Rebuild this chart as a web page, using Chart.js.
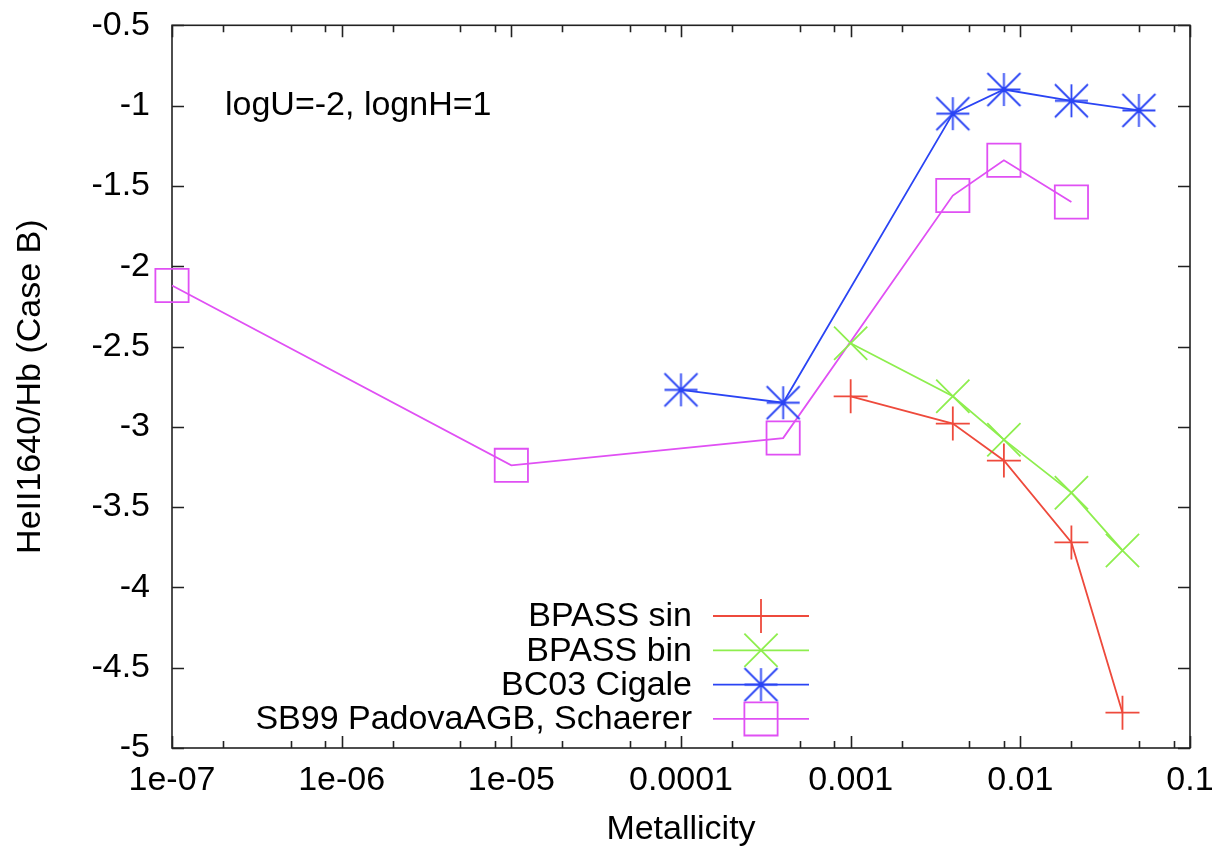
<!DOCTYPE html>
<html>
<head>
<meta charset="utf-8">
<title>HeII1640/Hb vs Metallicity</title>
<script src="https://cdn.jsdelivr.net/npm/chart.js@4/dist/chart.umd.min.js"></script>
<style>
    html, body { margin: 0; padding: 0; background: #fff; }
    #wrap { width: 1220px; height: 854px; position: relative; }
</style>
</head>
<body>
<div id="wrap"><canvas id="chartHeII"></canvas></div>
<script>
// --- valores ---
const sinZ = [0.001, 0.004, 0.008, 0.02, 0.04];
const sinHe = [-2.81, -2.98, -3.21, -3.72, -4.78];

const binZ = [0.001, 0.004, 0.008, 0.02, 0.04];
const binHe = [-2.48, -2.81, -3.08, -3.41, -3.77];

const bc03Z = [0.0001, 0.0004, 0.004, 0.008, 0.02, 0.05];
const bc03He = [-2.77, -2.85, -1.05, -0.90, -0.97, -1.03];

const sb99Z = [1e-7, 1e-5, 0.0004, 0.004, 0.008, 0.02];
const sb99He = [-2.12, -3.24, -3.07, -1.56, -1.34, -1.60];

const seriesNames = ['BPASS sin', 'BPASS bin', 'BC03 Cigale', 'SB99 PadovaAGB, Schaerer'];

const xTickValues = [1e-7, 1e-6, 1e-5, 1e-4, 1e-3, 1e-2, 1e-1];
const xTickLabels = ['1e-07', '1e-06', '1e-05', '0.0001', '0.001', '0.01', '0.1'];
const xMinorSteps = [2, 5, 8];
const yTickValues = [-5, -4.5, -4, -3.5, -3, -2.5, -2, -1.5, -1, -0.5];
const yTickLabels = ['-5', '-4.5', '-4', '-3.5', '-3', '-2.5', '-2', '-1.5', '-1', '-0.5'];

const FONT = "'Liberation Sans', Arial, sans-serif";
const FSIZE = 34;

function toPoints(xs, ys) {
    return xs.map((x, i) => ({ x: x, y: ys[i] }));
}

// asterisco estilo gnuplot (+ y x del mismo tamaño)
function asteriskSprite(color, half, lw) {
    const c = document.createElement('canvas');
    const s = Math.ceil(half * 2 + lw * 2);
    c.width = s; c.height = s;
    const g = c.getContext('2d');
    const m = s / 2;
    g.strokeStyle = color;
    g.lineWidth = lw;
    g.beginPath();
    g.moveTo(m - half, m); g.lineTo(m + half, m);
    g.moveTo(m, m - half); g.lineTo(m, m + half);
    g.moveTo(m - half, m - half); g.lineTo(m + half, m + half);
    g.moveTo(m - half, m + half); g.lineTo(m + half, m - half);
    g.stroke();
    return c;
}

const colRed = '#ee4a3c';
const colGreen = '#8eee4e';
const colBlue = '#2a44f4';
const colMagenta = '#e050f4';

function makeSeries(label, xs, ys, color, pointStyle, radius) {
    return {
        label: label,
        data: toPoints(xs, ys),
        borderColor: color,
        backgroundColor: color,
        borderWidth: 1.8,
        pointStyle: pointStyle,
        pointRadius: radius,
        pointBorderColor: color,
        pointBackgroundColor: 'rgba(0,0,0,0)',
        pointBorderWidth: 1.8,
        tension: 0,
        clip: false
    };
}

// ticks hacia dentro y marco, como gnuplot
const frameTicks = {
    id: 'frameTicks',
    beforeDatasetsDraw(chart) {
        const { ctx, chartArea: a, scales: { x, y } } = chart;
        ctx.save();
        ctx.strokeStyle = '#222';
        ctx.lineWidth = 1.6;
        ctx.strokeRect(a.left, a.top, a.right - a.left, a.bottom - a.top);
        ctx.beginPath();
        yTickValues.forEach(v => {
            const py = Math.round(y.getPixelForValue(v)) + 0.5;
            ctx.moveTo(a.left, py); ctx.lineTo(a.left + 12, py);
            ctx.moveTo(a.right, py); ctx.lineTo(a.right - 12, py);
        });
        xTickValues.forEach((v, i) => {
            const px = Math.round(x.getPixelForValue(v)) + 0.5;
            ctx.moveTo(px, a.bottom); ctx.lineTo(px, a.bottom - 12);
            ctx.moveTo(px, a.top); ctx.lineTo(px, a.top + 12);
            if (i < xTickValues.length - 1) {
                xMinorSteps.forEach(m => {
                    const pm = Math.round(x.getPixelForValue(v * m)) + 0.5;
                    ctx.moveTo(pm, a.bottom); ctx.lineTo(pm, a.bottom - 7);
                    ctx.moveTo(pm, a.top); ctx.lineTo(pm, a.top + 7);
                });
            }
        });
        ctx.stroke();
        ctx.restore();
    }
};

// leyenda con texto a la derecha y muestra a la izquierda (key de gnuplot)
const gnuplotKey = {
    id: 'gnuplotKey',
    afterDraw(chart) {
        const { ctx, chartArea: a } = chart;
        ctx.save();
        ctx.font = FSIZE + 'px ' + FONT;
        ctx.fillStyle = '#000';
        ctx.textBaseline = 'middle';

        // etiqueta de parámetros
        ctx.textAlign = 'left';
        ctx.fillText('logU=-2, lognH=1', a.left + 53, a.top + 80);

        ctx.textAlign = 'right';
        chart.data.datasets.forEach((ds, i) => {
            const yy = a.bottom - 132 + i * 34.3;
            ctx.fillStyle = '#000';
            ctx.fillText(ds.label, a.left + 520, yy + 1);
            ctx.strokeStyle = ds.borderColor;
            ctx.lineWidth = ds.borderWidth;
            ctx.beginPath();
            ctx.moveTo(a.left + 541, yy);
            ctx.lineTo(a.left + 637, yy);
            ctx.stroke();
            ctx.fillStyle = 'rgba(0,0,0,0)';
            Chart.helpers.drawPoint(ctx, {
                pointStyle: ds.pointStyle,
                radius: ds.pointRadius,
                rotation: 0,
                borderWidth: ds.pointBorderWidth
            }, a.left + 589, yy);
        });
        ctx.restore();
    }
};

const datasets = [
    makeSeries(seriesNames[0], sinZ, sinHe, colRed, 'cross', 17),
    makeSeries(seriesNames[1], binZ, binHe, colGreen, 'crossRot', 23.5),
    makeSeries(seriesNames[2], bc03Z, bc03He, colBlue, asteriskSprite(colBlue, 16.5, 1.8), 17),
    makeSeries(seriesNames[3], sb99Z, sb99He, colMagenta, 'rect', 23.5)
];

new Chart(document.getElementById('chartHeII'), {
    type: 'line',
    data: { datasets: datasets },
    options: {
        responsive: true,
        maintainAspectRatio: false,
        animation: false,
        layout: { padding: { top: 25, right: 30, bottom: 0, left: 0 } },
        plugins: {
            legend: { display: false },
            tooltip: { enabled: false }
        },
        scales: {
            x: {
                type: 'logarithmic',
                min: 1e-7,
                max: 0.1,
                grid: { display: false, drawTicks: false },
                border: { display: false },
                afterBuildTicks: s => { s.ticks = xTickValues.map(v => ({ value: v })); },
                afterFit: s => {
                    s.height = 106;
                    s.paddingLeft = 0;
                    s.paddingRight = 0;
                },
                ticks: {
                    autoSkip: false,
                    maxRotation: 0,
                    padding: 12,
                    color: '#000',
                    font: { family: FONT, size: FSIZE, lineHeight: 1.2 },
                    callback: v => {
                        const i = xTickValues.findIndex(t => Math.abs(Math.log10(t) - Math.log10(v)) < 1e-6);
                        return i >= 0 ? xTickLabels[i] : '';
                    }
                },
                title: {
                    display: true,
                    text: 'Metallicity',
                    color: '#000',
                    font: { family: FONT, size: FSIZE, lineHeight: 1.2 },
                    padding: { top: 0, bottom: 4 }
                }
            },
            y: {
                type: 'linear',
                min: -5,
                max: -0.5,
                grid: { display: false, drawTicks: false },
                border: { display: false },
                afterBuildTicks: s => { s.ticks = yTickValues.map(v => ({ value: v })); },
                afterFit: s => {
                    s.width = 172;
                    s.paddingTop = 0;
                    s.paddingBottom = 0;
                },
                ticks: {
                    padding: 22,
                    color: '#000',
                    font: { family: FONT, size: FSIZE, lineHeight: 1.2 },
                    callback: v => {
                        const i = yTickValues.findIndex(t => Math.abs(t - v) < 1e-6);
                        return i >= 0 ? yTickLabels[i] : '';
                    }
                },
                title: {
                    display: true,
                    text: 'HeII1640/Hb (Case B)',
                    color: '#000',
                    font: { family: FONT, size: FSIZE, lineHeight: 1.2 },
                    padding: { top: 10, bottom: 0 }
                }
            }
        }
    },
    plugins: [frameTicks, gnuplotKey]
});
</script>
</body>
</html>
